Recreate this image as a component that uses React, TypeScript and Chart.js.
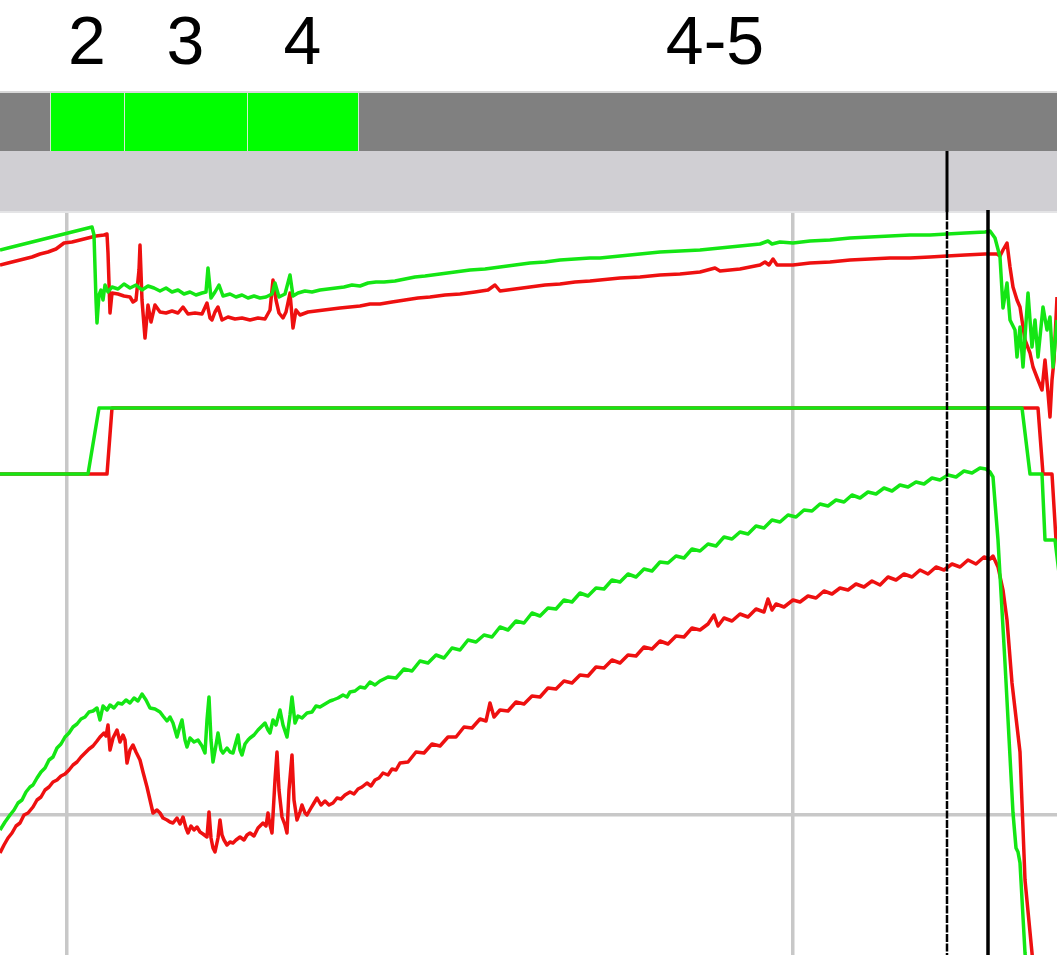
import React, { useEffect, useRef } from "react";
import { Chart, registerables } from "chart.js";

Chart.register(...registerables);

// ---------- Data (distance in m, channels in their own units) ----------
const segmentStart = [-150, 50, 124, 247, 358];
const segmentEnd = [50, 124, 247, 358, 1072];
const segmentLabel = ["1", "2", "3", "4", "4-5"];
const segmentActive = [false, true, true, true, false];

const gridDistances = [67, 793];
const gridRpm = [8000];
const cursorDistances = [947, 988];

const speedGreenX = [0,8,16,24,32,40,48,56,64,72,80,88,92,94,96,97,99,101,103,105,108,112,118,124,130,136,142,148,154,160,166,172,178,184,190,196,202,206,208,211,215,219,223,230,236,242,248,254,260,266,272,275,279,285,290,293,298,305,312,320,328,336,344,352,360,368,376,384,395,405,415,425,440,455,470,485,500,515,530,545,560,575,590,600,620,640,660,680,700,720,740,760,768,772,780,793,810,830,850,870,890,910,930,947,965,985,990,995,1000,1003,1007,1010,1015,1017,1020,1023,1028,1032,1035,1038,1043,1047,1050,1053,1057];
const speedGreenKmh = [262,264,266,268,270,272,274,276,278,280,282,284,285,277,212,189,217,222,212,227,220,225,223,228,224,227,222,226,224,221,224,220,222,218,220,217,219,220,244,214,220,227,216,218,215,217,214,216,214,215,218,229,215,218,237,216,219,221,220,222,223,224,225,227,226,229,230,230,231,233,235,236,238,240,242,243,245,247,249,250,252,253,254,254,256,258,260,261,262,264,266,268,271,268,270,269,271,272,274,275,276,277,277,278,279,280,281,274,255,204,229,192,182,155,185,145,219,165,192,155,205,182,195,145,192];

const speedRedX = [0,8,16,24,32,40,48,56,64,72,80,88,96,104,107,108,110,112,118,124,130,133,136,139,140,142,145,148,151,155,160,166,172,178,183,188,195,202,207,210,212,215,218,222,228,235,242,250,258,265,270,273,276,279,283,286,290,293,296,300,308,316,324,332,340,350,360,370,380,392,405,418,430,445,460,475,488,495,500,515,530,545,560,575,590,600,620,640,660,680,700,715,720,740,760,765,769,773,777,793,810,830,850,870,890,910,930,947,965,985,997,1000,1003,1007,1010,1013,1017,1020,1025,1030,1033,1038,1042,1045,1048,1050,1052,1054,1057];
const speedRedKmh = [247,249,251,253,255,258,260,263,269,270,272,274,276,277,278,259,199,219,218,216,215,210,212,242,267,212,174,207,190,207,200,199,201,199,205,198,199,198,209,194,192,200,205,192,195,193,194,192,194,193,202,232,212,199,194,200,219,184,202,197,200,201,202,203,204,205,206,208,208,210,212,214,215,217,218,220,222,227,221,223,225,227,228,230,231,232,234,235,237,238,240,244,241,243,247,250,247,253,247,247,249,250,252,253,254,254,255,256,257,258,258,256,262,269,245,225,212,205,172,159,145,132,122,152,119,95,132,152,215];

const gearGreenX = [0, 88, 99, 1022, 1030, 1042, 1045, 1055, 1063];
const gearGreen = [4, 4, 5, 5, 4, 4, 3, 3, 2];
const gearRedX = [0, 107, 112, 1038, 1043, 1052, 1056, 1064];
const gearRed = [4, 4, 5, 5, 4, 4, 3, 3];

const rpmGreenX = [0,5,10,14,18,22,26,30,33,37,41,45,49,53,57,61,65,69,73,77,81,85,89,93,97,100,103,107,110,114,118,122,126,130,134,138,142,146,150,155,160,163,167,170,173,177,180,182,185,187,190,194,198,202,205,207,209,211,213,216,218,221,223,227,230,233,236,238,240,242,245,248,250,254,258,262,265,268,270,273,276,280,283,287,290,292,295,298,302,307,312,316,320,325,330,333,338,343,347,350,355,360,365,370,375,380,388,396,404,412,420,428,436,444,452,460,468,476,484,492,500,508,516,524,532,540,548,556,564,572,580,588,596,604,612,620,628,636,644,652,660,668,676,684,692,700,708,716,724,732,740,748,756,764,772,780,788,796,804,812,820,828,836,844,852,860,868,876,884,892,900,908,916,924,932,940,948,956,964,972,980,986,990,993,998,1005,1013,1016,1018,1020,1025,1030];
const rpmGreen = [7850,7930,8000,8050,8120,8150,8230,8280,8300,8370,8430,8470,8550,8580,8670,8710,8780,8820,8880,8910,8960,8980,9030,9040,9070,8950,9090,9050,9100,9070,9120,9110,9150,9120,9170,9140,9210,9150,9070,9060,9030,8990,8940,8980,8920,8780,8890,8950,8750,8680,8770,8730,8750,8690,8620,8950,9180,8750,8530,8700,8820,8650,8620,8670,8630,8620,8730,8800,8650,8600,8710,8750,8770,8800,8850,8890,8920,8850,8820,8950,8900,9050,8900,8780,9000,9180,8920,8990,8970,9020,9030,9090,9080,9110,9140,9150,9170,9200,9180,9230,9240,9280,9270,9330,9300,9340,9380,9370,9460,9440,9540,9520,9600,9570,9670,9650,9750,9730,9800,9780,9880,9850,9940,9920,10020,9990,10070,10060,10150,10130,10220,10190,10270,10260,10350,10330,10410,10380,10460,10440,10530,10520,10590,10570,10660,10640,10710,10690,10780,10760,10830,10810,10890,10870,10950,10930,11000,10980,11050,11040,11110,11090,11150,11130,11200,11170,11230,11210,11270,11240,11300,11280,11330,11310,11370,11350,11400,11380,11440,11420,11470,11460,11430,11380,10750,9520,8020,7670,7630,7520,6620,6150];

const rpmRedX = [0,4,8,12,16,20,24,28,33,37,41,45,49,53,57,61,65,69,73,77,81,85,89,93,97,100,104,106,108,110,113,117,120,123,125,127,130,133,136,140,143,147,150,153,157,160,163,167,170,173,177,180,183,186,188,191,194,197,200,203,207,209,211,213,215,218,220,222,224,227,230,233,236,240,244,247,250,254,258,263,266,268,270,272,275,277,279,282,285,287,289,292,294,297,300,302,305,307,311,314,317,321,325,329,333,337,341,345,350,354,358,362,367,371,375,379,383,388,392,396,400,408,416,424,432,440,448,456,464,472,480,486,490,494,500,508,516,524,532,540,548,556,564,572,580,588,596,604,612,620,628,636,644,652,660,668,676,684,692,700,708,714,718,724,732,740,748,756,764,768,772,776,784,793,800,808,816,824,832,840,848,856,864,872,880,888,896,904,912,920,928,936,944,952,960,968,976,984,990,993,998,1003,1007,1012,1020,1025,1032,1036];
const rpmRed = [7620,7700,7770,7820,7890,7920,8000,8020,8080,8150,8180,8250,8280,8330,8350,8390,8410,8450,8500,8530,8580,8620,8660,8690,8740,8780,8820,8790,8900,8650,8770,8850,8730,8800,8750,8520,8650,8700,8630,8550,8430,8280,8150,8020,8050,8020,7970,7950,7930,7920,7970,7910,7980,7870,7820,7890,7850,7880,7830,7810,7780,8030,7770,7670,7630,7770,7950,7800,7750,7700,7730,7720,7750,7780,7750,7800,7820,7790,7870,7920,7890,8020,7900,7820,8350,8630,8250,7980,7900,7820,8250,8600,8150,7950,8030,8100,8020,8000,8070,8120,8170,8100,8140,8100,8120,8170,8160,8200,8230,8210,8260,8280,8320,8290,8350,8370,8420,8400,8460,8450,8520,8530,8630,8620,8710,8690,8780,8780,8880,8870,8960,8940,9120,8980,9050,9040,9130,9110,9190,9180,9270,9260,9340,9320,9400,9390,9480,9470,9550,9520,9600,9590,9680,9660,9740,9710,9790,9780,9870,9850,9910,10000,9890,9970,9940,10010,9980,10060,10030,10160,10050,10110,10080,10150,10130,10190,10170,10240,10210,10270,10250,10310,10280,10340,10300,10380,10350,10410,10380,10450,10410,10480,10450,10510,10480,10550,10510,10580,10560,10590,10480,10250,9950,9320,8630,7350,6620,6150];

// ---------- Styles ----------
const GREEN = "#14e614";
const RED = "#ee1010";
const FONT = '"Liberation Sans", Arial, sans-serif';

const pts = (xs: number[], ys: number[]) => xs.map((x, i) => ({ x, y: ys[i] }));

const bandsPlugin = {
  id: "bands",
  beforeDatasetsDraw(chart: any) {
    const { ctx, chartArea } = chart;
    const xs = chart.scales.x;
    const W = chart.width;
    const plotTop = chartArea.top;
    const lightTop = plotTop - 61;
    const darkTop = lightTop - 58;
    ctx.save();
    ctx.fillStyle = "#d0cfd3";
    ctx.fillRect(0, lightTop, W, plotTop - lightTop);
    ctx.fillStyle = "#e4e4e6";
    ctx.fillRect(0, plotTop - 1, W, 2);
    ctx.fillStyle = "#d8d8d8";
    ctx.fillRect(0, darkTop - 2, W, 2);
    ctx.fillStyle = "#808080";
    ctx.fillRect(0, darkTop, W, lightTop - darkTop);
    for (let i = 0; i < segmentStart.length; i++) {
      const x0 = xs.getPixelForValue(segmentStart[i]);
      const x1 = xs.getPixelForValue(segmentEnd[i]);
      ctx.fillStyle = segmentActive[i] ? "#00ff00" : "#808080";
      ctx.fillRect(x0, darkTop, x1 - x0, lightTop - darkTop);
      ctx.fillStyle = "#d4e8d4";
      ctx.fillRect(Math.round(x0), darkTop, 1, lightTop - darkTop);
      ctx.fillStyle = "#000000";
      ctx.font = `68px ${FONT}`;
      ctx.textAlign = "center";
      ctx.textBaseline = "alphabetic";
      ctx.fillText(segmentLabel[i], (x0 + x1) / 2, 64);
    }
    ctx.restore();
  },
  afterDatasetsDraw(chart: any) {
    const { ctx, chartArea } = chart;
    const xs = chart.scales.x;
    const plotTop = chartArea.top;
    const lightTop = plotTop - 61;
    const H = chart.height;
    ctx.save();
    ctx.strokeStyle = "#000000";
    const c0 = Math.round(xs.getPixelForValue(cursorDistances[0]));
    ctx.lineWidth = 3;
    ctx.beginPath();
    ctx.moveTo(c0, lightTop);
    ctx.lineTo(c0, plotTop);
    ctx.stroke();
    ctx.setLineDash([8, 1.5]);
    ctx.lineWidth = 2.5;
    ctx.beginPath();
    ctx.moveTo(c0, plotTop);
    ctx.lineTo(c0, H);
    ctx.stroke();
    ctx.setLineDash([]);
    const c1 = Math.round(xs.getPixelForValue(cursorDistances[1]));
    ctx.lineWidth = 3.5;
    ctx.beginPath();
    ctx.moveTo(c1, plotTop - 2);
    ctx.lineTo(c1, H);
    ctx.stroke();
    ctx.restore();
  },
};

export default function App() {
  const canvasRef = useRef<HTMLCanvasElement | null>(null);

  useEffect(() => {
    document.body.style.margin = "0";
    const canvas = canvasRef.current;
    if (!canvas) return;
    const line = (label: string, data: any[], color: string, axis: string) => ({
      label,
      data,
      yAxisID: axis,
      borderColor: color,
      backgroundColor: color,
      borderWidth: 3.5,
      pointRadius: 0,
      tension: 0,
      fill: false,
      borderJoinStyle: "round" as const,
    });
    const chart = new Chart(canvas, {
      type: "line",
      data: {
        datasets: [
          line("Speed (lap B)", pts(speedGreenX, speedGreenKmh), GREEN, "ySpeed"),
          line("Gear (lap B)", pts(gearGreenX, gearGreen), GREEN, "yGear"),
          line("RPM (lap B)", pts(rpmGreenX, rpmGreen), GREEN, "yRpm"),
          line("Speed (lap A)", pts(speedRedX, speedRedKmh), RED, "ySpeed"),
          line("Gear (lap A)", pts(gearRedX, gearRed), RED, "yGear"),
          line("RPM (lap A)", pts(rpmRedX, rpmRed), RED, "yRpm"),
        ],
      },
      options: {
        animation: false,
        responsive: false,
        events: [],
        layout: { padding: { top: 212, left: 0, right: 0, bottom: 0 } },
        plugins: { legend: { display: false }, tooltip: { enabled: false } },
        scales: {
          x: {
            type: "linear",
            min: 0,
            max: 1057,
            ticks: { display: false },
            border: { display: false },
            grid: { color: "#c8c8c8", lineWidth: 3.5, drawTicks: false },
            afterBuildTicks: (axis: any) => {
              axis.ticks = gridDistances.map((v) => ({ value: v }));
            },
          },
          ySpeed: { type: "linear", display: false, min: -443, max: 300 },
          yGear: { type: "linear", display: false, min: -3.288, max: 7.97 },
          yRpm: {
            type: "linear",
            position: "left",
            min: 6600,
            max: 14030,
            ticks: { display: false },
            border: { display: false },
            grid: { color: "#c8c8c8", lineWidth: 3.5, drawTicks: false },
            afterBuildTicks: (axis: any) => {
              axis.ticks = gridRpm.map((v) => ({ value: v }));
            },
          },
        },
      },
      plugins: [bandsPlugin],
    });
    return () => chart.destroy();
  }, []);

  return (
    <div style={{ position: "absolute", left: 0, top: 0, width: 1057, height: 955, background: "#ffffff" }}>
      <canvas ref={canvasRef} width={1057} height={955} style={{ display: "block" }} />
    </div>
  );
}
